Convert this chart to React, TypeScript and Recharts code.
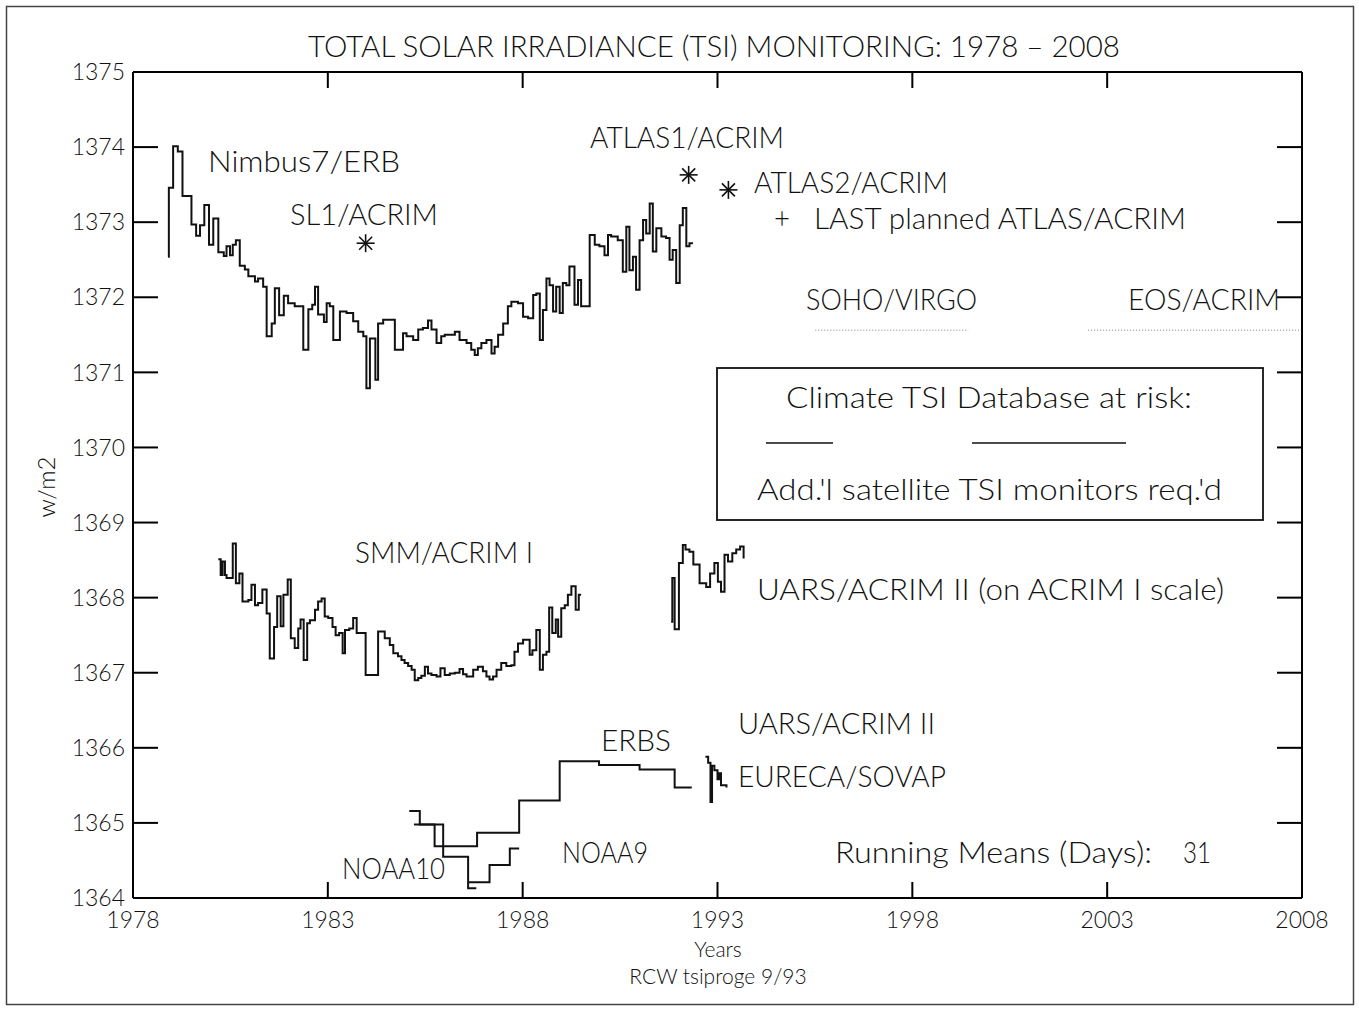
import React from 'react';
import { ComposedChart, Line, Scatter, XAxis, YAxis } from 'recharts';

// Nimbus7/ERB running means (upper trace)
const nimbusYears = [
  1978.90, 1978.92, 1979.03, 1979.15, 1979.27, 1979.50, 1979.62, 1979.72, 1979.83, 1979.95,
  1980.06, 1980.19, 1980.33, 1980.40, 1980.49, 1980.56, 1980.64, 1980.74, 1980.87, 1980.96,
  1981.13, 1981.21, 1981.34, 1981.43, 1981.56, 1981.64, 1981.75, 1981.87, 1981.98, 1982.15,
  1982.37, 1982.50, 1982.60, 1982.67, 1982.75, 1982.90, 1982.97, 1983.05, 1983.14, 1983.31,
  1983.48, 1983.65, 1983.78, 1983.91, 1983.99, 1984.08, 1984.22, 1984.29, 1984.42, 1984.72,
  1984.93, 1985.02, 1985.19, 1985.32, 1985.44, 1985.57, 1985.66, 1985.79, 1985.91, 1986.00,
  1986.26, 1986.38, 1986.56, 1986.68, 1986.77, 1986.85, 1986.94, 1987.07, 1987.20, 1987.28,
  1987.37, 1987.50, 1987.62, 1987.71, 1987.88, 1988.01, 1988.14, 1988.27, 1988.35, 1988.44,
  1988.52, 1988.61, 1988.69, 1988.78, 1988.86, 1988.95, 1989.03, 1989.12, 1989.20, 1989.33,
  1989.42, 1989.50, 1989.72, 1989.85, 1989.97, 1990.10, 1990.19, 1990.27, 1990.44, 1990.57,
  1990.66, 1990.74, 1990.83, 1990.91, 1991.00, 1991.09, 1991.17, 1991.26, 1991.34, 1991.43,
  1991.56, 1991.68, 1991.77, 1991.85, 1991.94, 1992.03, 1992.11, 1992.20, 1992.28, 1992.37,
];
const nimbusTsi = [
  1372.54, 1373.46, 1374.01, 1373.94, 1373.35, 1372.97, 1372.82, 1372.96, 1373.23, 1372.70,
  1373.05, 1372.60, 1372.55, 1372.68, 1372.56, 1372.70, 1372.76, 1372.42, 1372.37, 1372.28,
  1372.21, 1372.25, 1372.14, 1371.48, 1371.65, 1372.12, 1371.76, 1372.02, 1371.92, 1371.88,
  1371.30, 1371.84, 1371.90, 1372.14, 1371.77, 1371.67, 1371.92, 1371.88, 1371.43, 1371.81,
  1371.79, 1371.68, 1371.54, 1371.48, 1370.79, 1371.45, 1370.90, 1371.65, 1371.70, 1371.30,
  1371.52, 1371.48, 1371.43, 1371.57, 1371.59, 1371.69, 1371.57, 1371.39, 1371.48, 1371.50,
  1371.54, 1371.43, 1371.39, 1371.30, 1371.23, 1371.32, 1371.39, 1371.43, 1371.25, 1371.34,
  1371.50, 1371.65, 1371.88, 1371.94, 1371.92, 1371.74, 1371.72, 1372.03, 1372.05, 1371.43,
  1371.83, 1372.25, 1372.16, 1371.81, 1372.14, 1371.79, 1372.19, 1372.16, 1372.41, 1371.90,
  1372.23, 1371.88, 1372.83, 1372.70, 1372.68, 1372.56, 1372.83, 1372.81, 1372.76, 1372.34,
  1372.94, 1372.36, 1372.54, 1372.10, 1372.76, 1373.03, 1372.85, 1373.25, 1372.61, 1372.92,
  1372.81, 1372.79, 1372.50, 1372.63, 1372.19, 1372.96, 1373.19, 1372.68, 1372.72, 1372.72,
];

// SMM/ACRIM I
const smmYears = [
  1980.19, 1980.25, 1980.30, 1980.36, 1980.40, 1980.56, 1980.64, 1980.73, 1980.81, 1980.96,
  1981.04, 1981.13, 1981.21, 1981.32, 1981.43, 1981.51, 1981.62, 1981.70, 1981.79, 1981.86,
  1981.97, 1982.05, 1982.15, 1982.24, 1982.30, 1982.38, 1982.47, 1982.54, 1982.67, 1982.75,
  1982.84, 1982.92, 1983.01, 1983.12, 1983.20, 1983.29, 1983.38, 1983.44, 1983.55, 1983.65,
  1983.74, 1983.97, 1984.29, 1984.46, 1984.59, 1984.68, 1984.80, 1984.89, 1984.97, 1985.06,
  1985.15, 1985.23, 1985.32, 1985.40, 1985.49, 1985.57, 1985.66, 1985.79, 1985.89, 1986.00,
  1986.13, 1986.26, 1986.38, 1986.47, 1986.56, 1986.73, 1986.85, 1986.98, 1987.07, 1987.15,
  1987.24, 1987.33, 1987.45, 1987.58, 1987.71, 1987.79, 1987.88, 1988.01, 1988.18, 1988.25,
  1988.35, 1988.44, 1988.52, 1988.61, 1988.68, 1988.76, 1988.85, 1988.91, 1988.99, 1989.08,
  1989.16, 1989.25, 1989.36, 1989.44, 1989.50,
];
const smmTsi = [
  1368.51, 1368.30, 1368.48, 1368.30, 1368.26, 1368.72, 1368.19, 1368.32, 1367.95, 1367.97,
  1368.17, 1367.90, 1367.93, 1368.11, 1367.79, 1367.19, 1367.61, 1368.02, 1367.62, 1368.04,
  1368.24, 1367.46, 1367.33, 1367.59, 1367.71, 1367.17, 1367.66, 1367.70, 1367.84, 1367.95,
  1367.99, 1367.75, 1367.73, 1367.61, 1367.50, 1367.53, 1367.26, 1367.57, 1367.59, 1367.73,
  1367.53, 1366.97, 1367.55, 1367.46, 1367.37, 1367.26, 1367.22, 1367.17, 1367.13, 1367.09,
  1367.04, 1366.90, 1366.93, 1366.96, 1367.08, 1366.99, 1366.97, 1366.95, 1367.06, 1366.97,
  1366.99, 1367.00, 1367.05, 1366.98, 1366.95, 1367.04, 1367.08, 1367.02, 1366.95, 1366.91,
  1366.95, 1367.04, 1367.13, 1367.09, 1367.10, 1367.28, 1367.39, 1367.44, 1367.24, 1367.30,
  1367.57, 1367.04, 1367.24, 1367.28, 1367.87, 1367.53, 1367.71, 1367.48, 1367.86, 1367.90,
  1368.04, 1368.15, 1367.84, 1368.04, 1368.04,
];

// UARS/ACRIM II on ACRIM I scale
const uarsYears = [
  1991.81, 1991.84, 1991.90, 1992.01, 1992.11, 1992.18, 1992.28, 1992.38, 1992.54, 1992.71,
  1992.81, 1992.92, 1993.01, 1993.09, 1993.18, 1993.27, 1993.38, 1993.48, 1993.58, 1993.67,
];
const uarsTsi = [
  1367.68, 1368.26, 1367.58, 1368.46, 1368.70, 1368.64, 1368.61, 1368.44, 1368.19, 1368.14,
  1368.32, 1368.46, 1368.21, 1368.08, 1368.57, 1368.48, 1368.59, 1368.64, 1368.68, 1368.52,
];

// ERBS, NOAA9, NOAA10, EURECA/SOVAP (lower traces)
const erbsYears = [1985.09, 1985.36, 1985.74, 1986.83, 1987.91, 1988.95, 1989.96, 1991.00, 1991.90, 1992.34];
const erbsTsi = [1365.16, 1364.98, 1364.69, 1364.87, 1365.30, 1365.82, 1365.77, 1365.71, 1365.47, 1365.47];

const noaa9Years = [1985.21, 1985.96, 1986.60, 1986.81];
const noaa9Tsi = [1364.98, 1364.55, 1364.13, 1364.13];

const noaa10Years = [1986.60, 1987.15, 1987.67, 1987.91];
const noaa10Tsi = [1364.21, 1364.44, 1364.66, 1364.66];

const eurecaYears = [1992.69, 1992.76, 1992.82, 1992.86, 1992.92, 1993.00, 1993.05, 1993.09, 1993.23];
const eurecaTsi = [1365.88, 1365.80, 1365.28, 1365.76, 1365.70, 1365.58, 1365.66, 1365.50, 1365.47];

// Shuttle ACRIM flights (SL1, ATLAS1, ATLAS2)
const shuttleYears = [1983.97, 1992.26, 1993.28];
const shuttleTsi = [1372.72, 1373.63, 1373.43];

// planned missions (dotted)
const sohoYears = [1995.51, 1999.44];
const sohoTsi = [1371.56, 1371.56];
const eosYears = [2002.51, 2007.95];
const eosTsi = [1371.56, 1371.56];

const yearTicks = [1978, 1983, 1988, 1993, 1998, 2003, 2008];
const tsiTicks = [1364, 1365, 1366, 1367, 1368, 1369, 1370, 1371, 1372, 1373, 1374, 1375];

const toPoints = (years: number[], tsi: number[]) => years.map((year, i) => ({ year, tsi: tsi[i] }));

const FONT = 'Lato, "DejaVu Sans", sans-serif';

// asterisk marker for the shuttle flights
const Asterisk = (props: any) => {
  const { cx, cy } = props;
  const r = 9;
  const d = 6.5;
  return (
    <g stroke="#111" strokeWidth={1.6}>
      <line x1={cx - r} y1={cy} x2={cx + r} y2={cy} />
      <line x1={cx} y1={cy - r} x2={cx} y2={cy + r} />
      <line x1={cx - d} y1={cy - d} x2={cx + d} y2={cy + d} />
      <line x1={cx - d} y1={cy + d} x2={cx + d} y2={cy - d} />
    </g>
  );
};

// text placed on the figure: [text, left x, baseline y, width, font size]
const labels: [string, number, number, number, number][] = [
  ['TOTAL SOLAR IRRADIANCE (TSI) MONITORING:  1978  –  2008', 308, 57, 812, 29],
  ['Nimbus7/ERB', 208, 172, 192, 29],
  ['SL1/ACRIM', 290, 225, 148, 29],
  ['ATLAS1/ACRIM', 590, 148, 194, 29],
  ['ATLAS2/ACRIM', 754, 193, 194, 29],
  ['+', 774, 229, 16, 29],
  ['LAST planned ATLAS/ACRIM', 814, 229, 372, 29],
  ['SOHO/VIRGO', 806, 310, 171, 29],
  ['EOS/ACRIM', 1128, 310, 152, 29],
  ['Climate TSI Database at risk:', 786, 408, 406, 29],
  ["Add.'l satellite TSI monitors req.'d", 757, 500, 465, 29],
  ['SMM/ACRIM I', 355, 563, 178, 29],
  ['UARS/ACRIM II (on ACRIM I scale)', 757, 600, 467, 29],
  ['UARS/ACRIM II', 738, 734, 197, 29],
  ['ERBS', 601, 751, 70, 29],
  ['EURECA/SOVAP', 738, 787, 208, 29],
  ['NOAA9', 562, 863, 86, 29],
  ['NOAA10', 342, 879, 103, 29],
  ['Running Means (Days):', 835, 863, 317, 29],
  ['31', 1183, 863, 28, 29],
];

const App: React.FC = () => {
  return (
    <div style={{ position: 'absolute', left: 0, top: 0, width: 1359, height: 1009, background: '#fff' }}>
      <ComposedChart width={1359} height={1009} margin={{ top: 71, right: 56, bottom: 71, left: 73 }}>
        <XAxis
          dataKey="year"
          type="number"
          domain={[1978, 2008]}
          ticks={yearTicks}
          height={40}
          stroke="#000"
          strokeWidth={2}
          tickSize={-16}
          tickMargin={30}
          tick={{ fill: '#111', fontSize: 23, fontFamily: FONT, fontWeight: 300 }}
          allowDataOverflow
        />
        <XAxis
          xAxisId="top"
          dataKey="year"
          orientation="top"
          type="number"
          domain={[1978, 2008]}
          ticks={yearTicks}
          height={1}
          stroke="#000"
          strokeWidth={2}
          tickSize={-16}
          tick={{ fill: 'none', fontSize: 1 }}
          allowDataOverflow
        />
        <YAxis
          type="number"
          domain={[1364, 1375]}
          ticks={tsiTicks}
          width={60}
          stroke="#000"
          strokeWidth={2}
          tickSize={-25}
          tickMargin={33}
          tick={{ fill: '#111', fontSize: 23, fontFamily: FONT, fontWeight: 300 }}
          allowDataOverflow
        />
        <YAxis
          yAxisId="right"
          orientation="right"
          type="number"
          domain={[1364, 1375]}
          ticks={tsiTicks}
          width={1}
          stroke="#000"
          strokeWidth={2}
          tickSize={-25}
          tick={{ fill: 'none', fontSize: 1 }}
          allowDataOverflow
        />

        {/* planned missions, drawn against the top/right frame axes (same scales) */}
        <Line xAxisId="top" yAxisId="right" data={toPoints(sohoYears, sohoTsi)} dataKey="tsi" type="linear" stroke="#aaa" strokeWidth={1.5} strokeDasharray="1 2" dot={false} isAnimationActive={false} />
        <Line xAxisId="top" yAxisId="right" data={toPoints(eosYears, eosTsi)} dataKey="tsi" type="linear" stroke="#aaa" strokeWidth={1.5} strokeDasharray="1 2" dot={false} isAnimationActive={false} />

        <Line data={toPoints(nimbusYears, nimbusTsi)} dataKey="tsi" type="stepAfter" stroke="#111" strokeWidth={2} dot={false} isAnimationActive={false} />
        <Line data={toPoints(smmYears, smmTsi)} dataKey="tsi" type="stepAfter" stroke="#111" strokeWidth={2} dot={false} isAnimationActive={false} />
        <Line data={toPoints(uarsYears, uarsTsi)} dataKey="tsi" type="stepAfter" stroke="#111" strokeWidth={2} dot={false} isAnimationActive={false} />
        <Line data={toPoints(erbsYears, erbsTsi)} dataKey="tsi" type="stepAfter" stroke="#111" strokeWidth={2} dot={false} isAnimationActive={false} />
        <Line data={toPoints(noaa9Years, noaa9Tsi)} dataKey="tsi" type="stepAfter" stroke="#111" strokeWidth={2} dot={false} isAnimationActive={false} />
        <Line data={toPoints(noaa10Years, noaa10Tsi)} dataKey="tsi" type="stepAfter" stroke="#111" strokeWidth={2} dot={false} isAnimationActive={false} />
        <Line data={toPoints(eurecaYears, eurecaTsi)} dataKey="tsi" type="stepAfter" stroke="#111" strokeWidth={2} dot={false} isAnimationActive={false} />

        <Scatter data={toPoints(shuttleYears, shuttleTsi)} dataKey="tsi" shape={Asterisk} isAnimationActive={false} />
      </ComposedChart>

      <svg
        width={1359}
        height={1009}
        style={{ position: 'absolute', left: 0, top: 0, pointerEvents: 'none' }}
        fontFamily={FONT}
        fontWeight={300}
        fill="#111"
      >
        <rect x={6.5} y={6.5} width={1347} height={998} fill="none" stroke="#444" strokeWidth={1.5} />
        <rect x={717} y={368} width={546} height={152} fill="none" stroke="#111" strokeWidth={1.8} />
        <line x1={766} y1={443} x2={833} y2={443} stroke="#111" strokeWidth={1.6} />
        <line x1={972} y1={443} x2={1126} y2={443} stroke="#111" strokeWidth={1.6} />
        {labels.map(([text, x, y, w, size]) => (
          <text key={text} x={x} y={y} fontSize={size} textLength={w} lengthAdjust="spacingAndGlyphs">
            {text}
          </text>
        ))}
        <text x={718} y={957} fontSize={21} textAnchor="middle">Years</text>
        <text x={718} y={984} fontSize={21} textAnchor="middle">RCW tsiproge 9/93</text>
        <text
          x={0}
          y={0}
          fontSize={24}
          textAnchor="middle"
          transform="translate(55 487) rotate(-90)"
        >
          w/m2
        </text>
      </svg>
    </div>
  );
};

export default App;
